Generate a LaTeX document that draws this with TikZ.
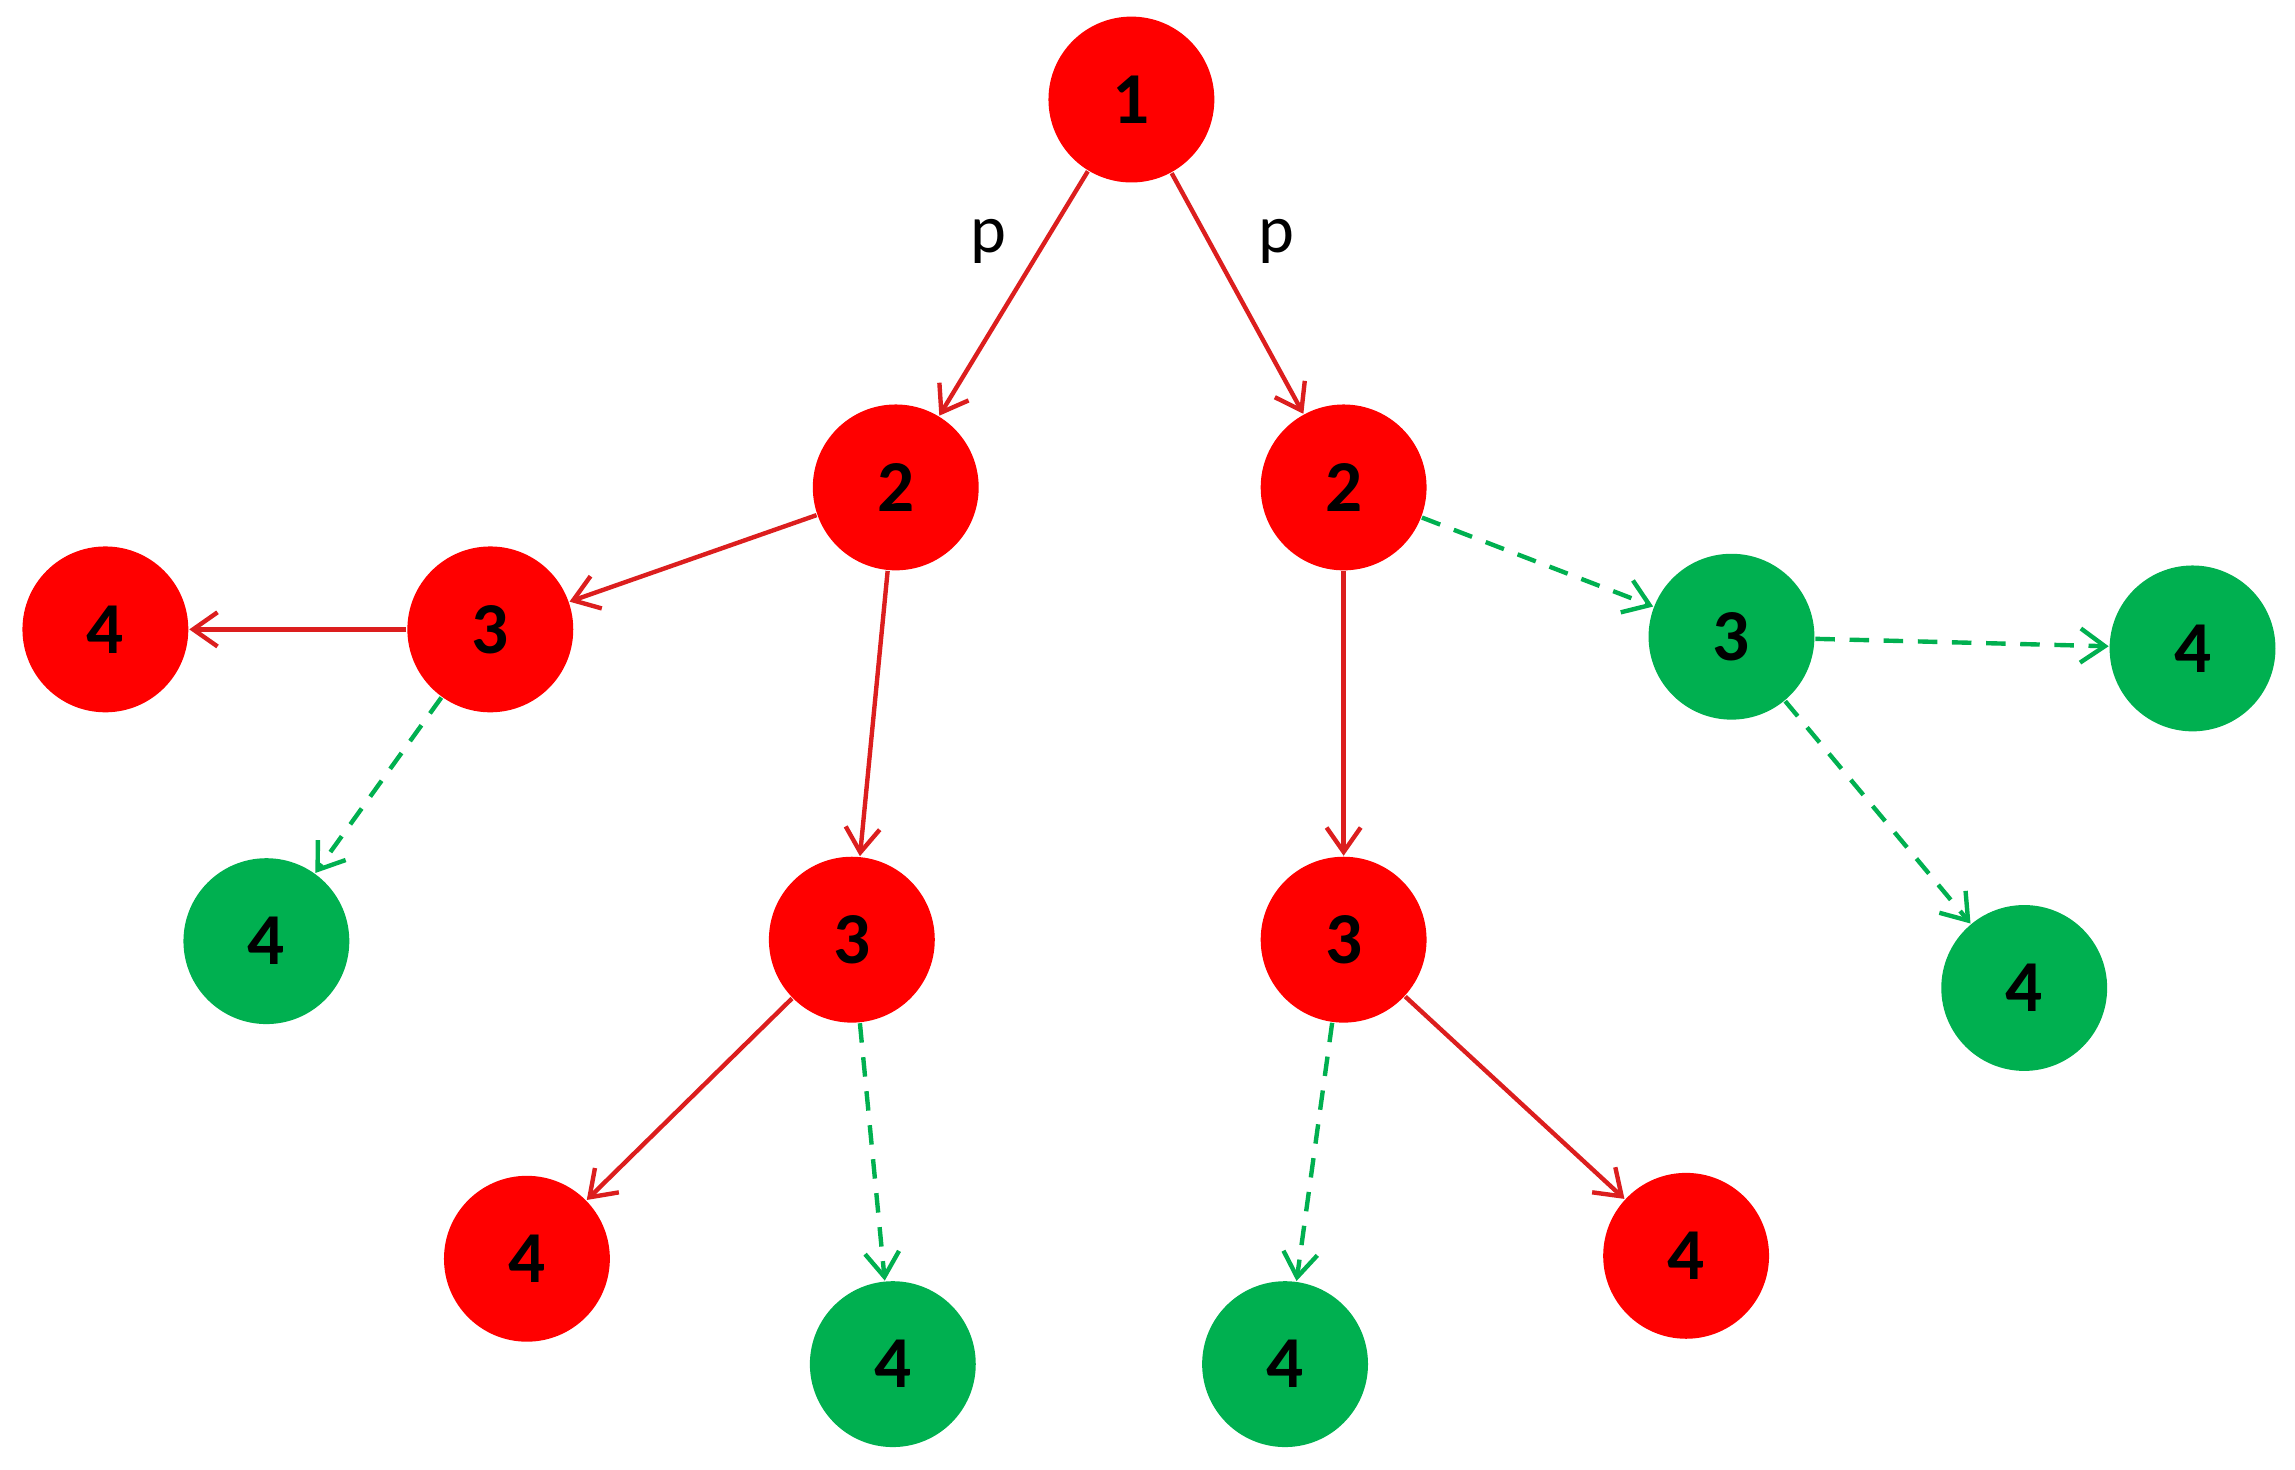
\documentclass[tikz,border=0pt]{standalone}
\usepackage{fontspec}
\setmainfont{Carlito}
\usetikzlibrary{arrows.meta}
\definecolor{nred}{RGB}{255,0,0}
\definecolor{ngreen}{RGB}{0,176,80}
\definecolor{lred}{RGB}{220,30,30}
\begin{document}
\begin{tikzpicture}[x=0.3pt,y=-0.3pt,
  rn/.style={circle,fill=nred,minimum size=34pt,inner sep=0pt,font=\fontsize{15}{15}\selectfont\bfseries},
  gn/.style={circle,fill=ngreen,minimum size=34pt,inner sep=0pt,font=\fontsize{15}{15}\selectfont\bfseries},
  re/.style={draw=lred,line width=0.9pt,-{Straight Barb[length=5pt,width=7pt]}},
  ge/.style={draw=ngreen,line width=0.9pt,dashed,dash pattern=on 4pt off 3pt,-{Straight Barb[length=5pt,width=7pt]}},
  lab/.style={font=\fontsize{14}{14}\selectfont}]
\useasboundingbox (0,0) rectangle (1568,1004);
\node[rn] (n1) at (773,68) {1};
\node[rn] (n2l) at (612,333) {2};
\node[rn] (n2r) at (918,333) {2};
\node[rn] (n3a) at (335,430) {3};
\node[rn] (n4a) at (72,430) {4};
\node[gn] (n4b) at (182,643) {4};
\node[rn] (n3b) at (582,642) {3};
\node[rn] (n4c) at (360,860) {4};
\node[gn] (n4d) at (610,932) {4};
\node[rn] (n3c) at (918,642) {3};
\node[gn] (n4e) at (878,932) {4};
\node[rn] (n4f) at (1152,858) {4};
\node[gn] (n3d) at (1183,435) {3};
\node[gn] (n4g) at (1498,443) {4};
\node[gn] (n4h) at (1383,675) {4};
\draw[re] (n1) -- (n2l);
\draw[re] (n1) -- (n2r);
\node[lab] (pl) at (675,165) {p};
\node[lab] (pr) at (872,165) {p};
\draw[re] (n2l) -- (n3a);
\draw[re] (n3a) -- (n4a);
\draw[ge] (n3a) -- (n4b);
\draw[re] (n2l) -- (n3b);
\draw[re] (n3b) -- (n4c);
\draw[ge] (n3b) -- (n4d);
\draw[re] (n2r) -- (n3c);
\draw[ge] (n3c) -- (n4e);
\draw[re] (n3c) -- (n4f);
\draw[ge] (n2r) -- (n3d);
\draw[ge] (n3d) -- (n4g);
\draw[ge] (n3d) -- (n4h);
\end{tikzpicture}
\end{document}
